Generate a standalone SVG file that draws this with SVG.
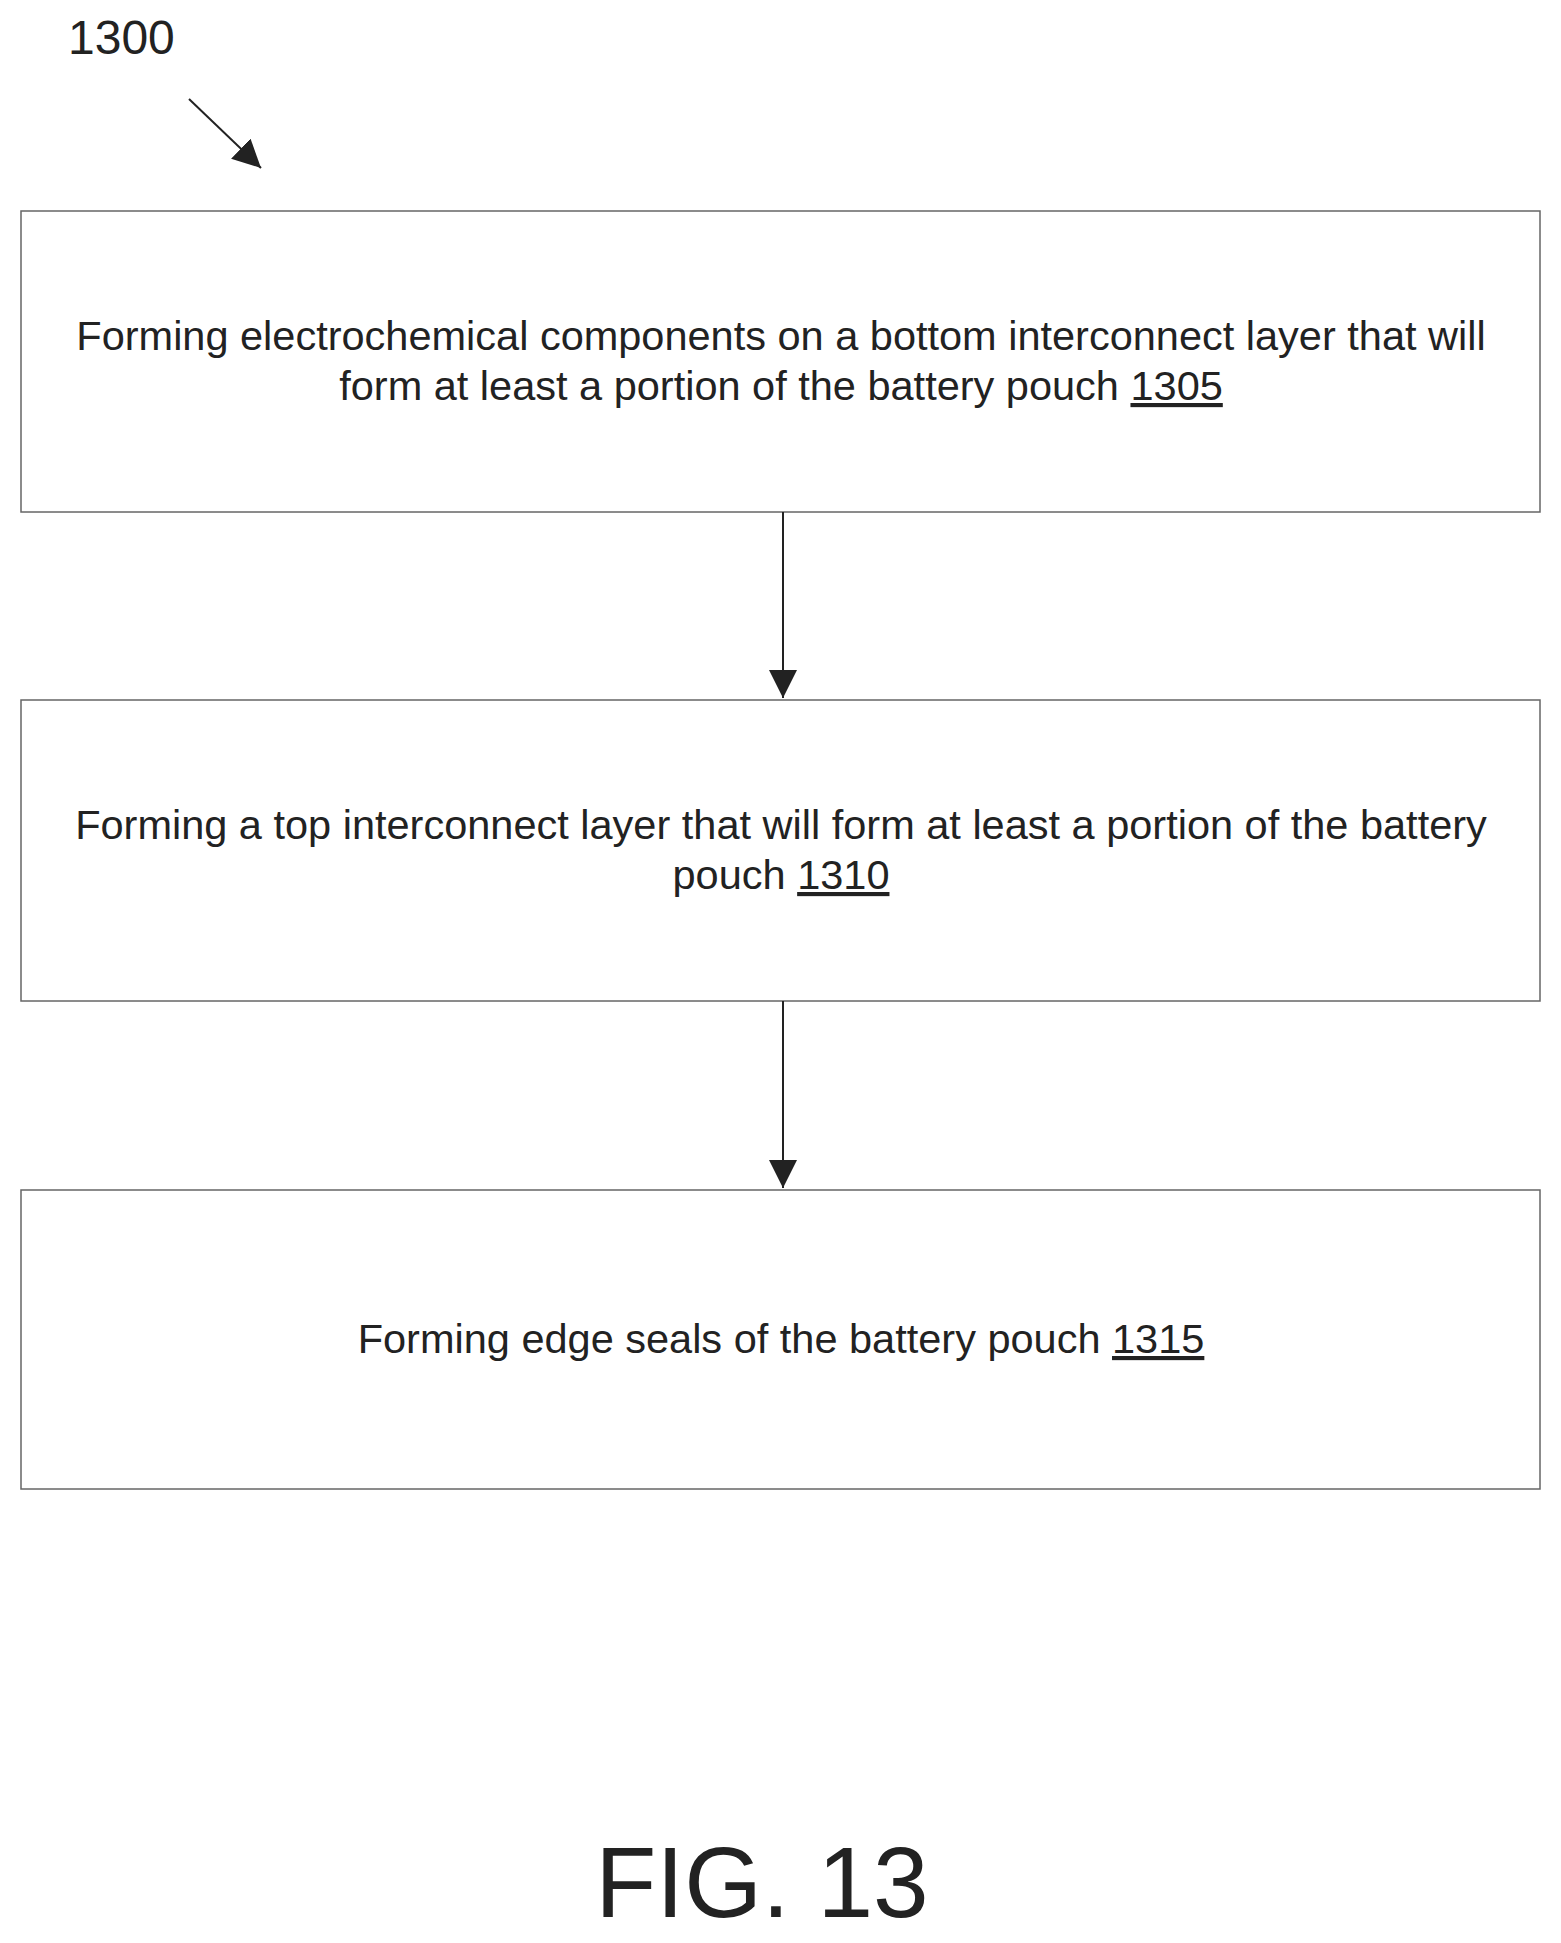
<svg xmlns="http://www.w3.org/2000/svg" width="1561" height="1943" viewBox="0 0 1561 1943">
<defs>
<style>
.box{fill:#fff;stroke:#666;stroke-width:1.5}
.t{font-family:"Liberation Sans",Arial,sans-serif;font-size:41.5px;fill:#222;text-anchor:middle}
.c{stroke:#222;stroke-width:2;fill:none}
</style>
<marker id="ab" markerWidth="28" markerHeight="38" refX="28" refY="14" orient="auto" markerUnits="userSpaceOnUse">
<path d="M0,0 L28,14 L0,28 Z" fill="#222"/>
</marker>
</defs>
<rect width="1561" height="1943" fill="#fff"/>
<text x="68" y="54" style="font-family:'Liberation Sans',Arial,sans-serif;font-size:48px;fill:#222">1300</text>
<line x1="189" y1="99" x2="261" y2="168" class="c" marker-end="url(#ab)"/>
<g id="n1305">
<rect class="box" x="21" y="211" width="1519" height="301"/>
<text class="t" x="781" y="350">Forming electrochemical components on a bottom interconnect layer that will</text>
<text class="t" x="781" y="400">form at least a portion of the battery pouch <tspan text-decoration="underline">1305</tspan></text>
</g>
<g id="n1310">
<rect class="box" x="21" y="700" width="1519" height="301"/>
<text class="t" x="781" y="839">Forming a top interconnect layer that will form at least a portion of the battery</text>
<text class="t" x="781" y="889">pouch <tspan text-decoration="underline">1310</tspan></text>
</g>
<g id="n1315">
<rect class="box" x="21" y="1190" width="1519" height="299"/>
<text class="t" x="781" y="1353">Forming edge seals of the battery pouch <tspan text-decoration="underline">1315</tspan></text>
</g>
<g id="connectors">
<line x1="783" y1="512" x2="783" y2="698" class="c" marker-end="url(#ab)"/>
<line x1="783" y1="1001" x2="783" y2="1188" class="c" marker-end="url(#ab)"/>
</g>
<text x="762" y="1917" style="font-family:'Liberation Sans',Arial,sans-serif;font-size:100px;fill:#222;text-anchor:middle">FIG. 13</text>
</svg>
